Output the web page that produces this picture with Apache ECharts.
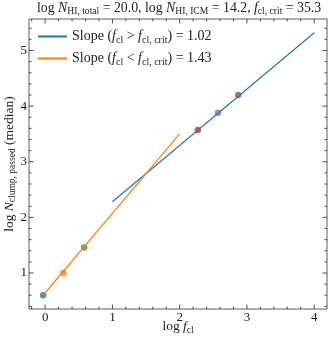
<!DOCTYPE html>
<html>
<head>
<meta charset="utf-8">
<script src="https://cdn.jsdelivr.net/npm/echarts@6/dist/echarts.min.js"></script>
<style>
html,body{margin:0;padding:0;background:#fff}
#chart{width:332px;height:342px}
</style>
</head>
<body>
<div id="chart"></div>
<script>
// measured points (log f_cl, log N_clump,passed median)
var logFcl = [-0.03, 0.27, 0.58, 2.27, 2.57, 2.87];
var logNclump = [0.60, 1.00, 1.46, 3.57, 3.88, 4.20];
var pointColors = ['#1f77b4', '#ff7f0e', '#2ca02c', '#d62728', '#9467bd', '#8c564b'];

// fitted lines
var fitHighX = [1.0, 4.0];
var fitHighY = [2.28, 5.32];
var fitLowX = [-0.03, 2.0];
var fitLowY = [0.60, 3.50];
var slopeHigh = '1.02';
var slopeLow = '1.43';

// ticks
var xMajor = [0, 1, 2, 3, 4];
var xMinor = [-0.2, 0.2, 0.4, 0.6, 0.8, 1.2, 1.4, 1.6, 1.8, 2.2, 2.4, 2.6, 2.8, 3.2, 3.4, 3.6, 3.8];
var yMajor = [1, 2, 3, 4, 5];
var yMinor = [0.4, 0.6, 0.8, 1.2, 1.4, 1.6, 1.8, 2.2, 2.4, 2.6, 2.8, 3.2, 3.4, 3.6, 3.8, 4.2, 4.4, 4.6, 4.8, 5.2, 5.4];

var F = 'Liberation Serif';
var ink = '#222';

function richSet(size, subSize) {
  return {
    r: {fontFamily: F, fontSize: size, fontWeight: 'normal', color: ink, lineHeight: size + 2},
    i: {fontFamily: F, fontSize: size, fontWeight: 'normal', color: ink, fontStyle: 'italic', lineHeight: size + 2},
    s: {fontFamily: F, fontSize: subSize, fontWeight: 'normal', color: ink, lineHeight: Math.round(size * 0.75), padding: [Math.round(size * 0.5), 0, 0, 0]}
  };
}

function xAx(pos, labels) {
  return {
    type: 'value', position: pos, min: -0.24, max: 4.19,
    axisLine: {show: false}, splitLine: {show: false}, axisTick: {show: false},
    axisLabel: {show: labels, customValues: xMajor, fontFamily: F, fontSize: 13, color: ink, margin: 2}
  };
}
function yAx(pos, labels) {
  return {
    type: 'value', position: pos, min: 0.353, max: 5.566,
    axisLine: {show: false}, splitLine: {show: false}, axisTick: {show: false},
    axisLabel: {show: labels, customValues: yMajor, fontFamily: F, fontSize: 13, color: ink, margin: 2}
  };
}

var xAxes = [xAx('bottom', true), xAx('top', false)];
xAxes[0].name = '{r|log }{i|f}{s|cl}';
xAxes[0].nameLocation = 'middle';
xAxes[0].nameGap = 10;
xAxes[0].nameMoveOverlap = false;
xAxes[0].nameTextStyle = {rich: richSet(13.5, 9.5)};

var yAxes = [yAx('left', true), yAx('right', false)];
yAxes[0].name = '{r|log }{i|N}{s|clump, passed}{r| (median)}';
yAxes[0].nameLocation = 'middle';
yAxes[0].nameGap = 12;
yAxes[0].nameMoveOverlap = false;
yAxes[0].nameTextStyle = {rich: richSet(13.5, 9.5)};

var nameHigh = 'high';
var nameLow = 'low';

function pairs(xs, ys) {
  var out = [];
  for (var k = 0; k < xs.length; k++) out.push([xs[k], ys[k]]);
  return out;
}

var pointData = [];
for (var k = 0; k < logFcl.length; k++) {
  pointData.push({value: [logFcl[k], logNclump[k]], itemStyle: {color: pointColors[k]}});
}

// inward ticks on all four sides, placed through the axis scales
function tickSeries(values, isX, len) {
  return {
    type: 'custom', silent: true, clip: false, z: 5,
    data: values.map(function (v) { return [v]; }),
    encode: isX ? {x: 0} : {y: 0},
    renderItem: function (params, api) {
      var cs = params.coordSys;
      var v = api.value(0);
      var shapes = [];
      if (isX) {
        var px = api.coord([v, 1])[0];
        shapes.push({x1: px, y1: cs.y + cs.height, x2: px, y2: cs.y + cs.height - len});
        shapes.push({x1: px, y1: cs.y, x2: px, y2: cs.y + len});
      } else {
        var py = api.coord([0, v])[1];
        shapes.push({x1: cs.x, y1: py, x2: cs.x + len, y2: py});
        shapes.push({x1: cs.x + cs.width, y1: py, x2: cs.x + cs.width - len, y2: py});
      }
      return {type: 'group', children: shapes.map(function (s) {
        return {type: 'line', shape: s, style: {stroke: ink, lineWidth: 0.8}};
      })};
    }
  };
}

var option = {
  animation: false,
  backgroundColor: '#fff',
  title: {
    text: '{r|log }{i|N}{s|HI, total}{r| = 20.0, log }{i|N}{s|HI, ICM}{r| = 14.2, }{i|f}{s|cl, crit}{r| = 35.3}',
    left: 37, top: 0, padding: 0,
    textStyle: {fontWeight: 'normal', rich: richSet(13.8, 9.6)}
  },
  grid: {left: 29, right: 5, top: 19, bottom: 33, outerBoundsMode: 'none', containLabel: false, show: true, borderColor: '#333', borderWidth: 0.8, backgroundColor: 'transparent'},
  legend: {
    orient: 'vertical', left: 38, top: 28, padding: 0, itemWidth: 29, itemHeight: 2, itemGap: 5, icon: 'rect',
    data: [nameHigh, nameLow],
    formatter: function (n) {
      var cmp = n === nameHigh ? ' > ' : ' < ';
      var sl = n === nameHigh ? slopeHigh : slopeLow;
      return '{r|Slope (}{i|f}{s|cl}{r|' + cmp + '}{i|f}{s|cl, crit}{r|) = ' + sl + '}';
    },
    textStyle: {rich: richSet(14, 10)}
  },
  xAxis: xAxes,
  yAxis: yAxes,
  series: [
    tickSeries(xMajor, true, 4.5),
    tickSeries(xMinor, true, 2.5),
    tickSeries(yMajor, false, 4.5),
    tickSeries(yMinor, false, 2.5),
    {type: 'scatter', name: 'pts', data: pointData, symbolSize: 6.5, z: 2},
    {type: 'line', name: nameHigh, data: pairs(fitHighX, fitHighY), showSymbol: false, symbol: 'none', color: '#1f77b4', lineStyle: {width: 1.2}, z: 3},
    {type: 'line', name: nameLow, data: pairs(fitLowX, fitLowY), showSymbol: false, symbol: 'none', color: '#ff7f0e', lineStyle: {width: 1.2}, z: 3}
  ]
};

var chart = echarts.init(document.getElementById('chart'));
chart.setOption(option);
</script>
</body>
</html>
